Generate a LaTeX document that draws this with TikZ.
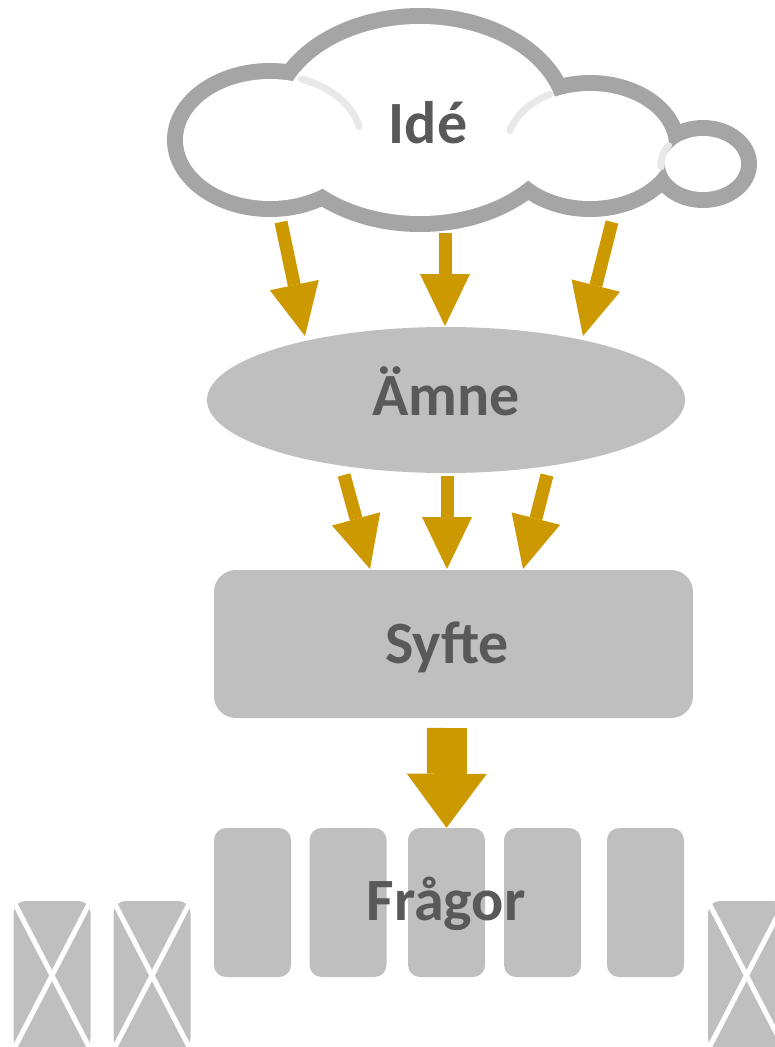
\documentclass[tikz,border=0pt]{standalone}
\usepackage{fontspec}
\setmainfont{Carlito}
\usepackage{tikz}
\usetikzlibrary{shapes.geometric,arrows.meta}

\definecolor{gold}{RGB}{204,153,0}
\definecolor{boxgray}{RGB}{191,191,191}
\definecolor{txtgray}{RGB}{89,89,89}
\definecolor{cloudgray}{RGB}{165,165,165}

\tikzset{
	boxtext/.style={text=txtgray, font=\bfseries\fontsize{60}{62}\selectfont, text height=38pt, text depth=0pt},
	blockarrow/.style={draw=gold, line width=13pt, -{Triangle[width=50pt,length=52pt,line width=0pt]}},
	bigarrow/.style={draw=gold, line width=40pt, -{Triangle[width=80pt,length=54pt,line width=0pt]}},
	qbox/.style={fill=boxgray, rounded corners=12pt, minimum width=77pt, minimum height=149pt, inner sep=0pt},
	crossline/.style={draw=white, line width=5pt},
	lobeshade/.style={draw=black!9, line width=7pt, line cap=round},
}

\begin{document}
\begin{tikzpicture}[x=1pt,y=-1pt]
	
	\useasboundingbox (0,0) rectangle (775,1047);
	
	% cloud
	\foreach \cx/\cy/\rx/\ry in {270/140/103/77, 420/120/155/112, 590/146/95/71, 703/164/54/44}
		\fill[cloudgray] (\cx,\cy) ellipse [x radius=\rx, y radius=\ry];
	\foreach \cx/\cy/\rx/\ry in {270/140/103/77, 420/120/155/112, 590/146/95/71, 703/164/54/44}
		\fill[white] (\cx,\cy) ellipse [x radius=\rx-16, y radius=\ry-16];
	\draw[lobeshade] (270,140) ++(-70:91 and 65) arc[start angle=-70, end angle=-12, x radius=91, y radius=65];
	\draw[lobeshade] (590,146) ++(-119:83 and 59) arc[start angle=-119, end angle=-165, x radius=83, y radius=59];
	\draw[lobeshade] (703,164) ++(-145:42 and 32) arc[start angle=-145, end angle=-185, x radius=42, y radius=32];
	\node[boxtext] (ide) at (428,124) {Idé};
	
	\node[ellipse, fill=boxgray, minimum width=478pt, minimum height=146pt, inner sep=0pt] (amne) at (446,400) {};
	\node[boxtext] at (446,396) {Ämne};
	\node[fill=boxgray, rounded corners=22pt, minimum width=479pt, minimum height=148pt, inner sep=0pt] (syfte) at (453.5,644) {};
	\node[boxtext] at (447,644) {Syfte};
	
	% arrows from the cloud
	\coordinate (c1) at (281,222);
	\coordinate (c2) at (445,233);
	\coordinate (c3) at (612,222);
	\coordinate (a1) at (305,336);
	\coordinate (a2) at (445,326);
	\coordinate (a3) at (583,336);
	\draw[blockarrow] (c1) -- (a1);
	\draw[blockarrow] (c2) -- (a2);
	\draw[blockarrow] (c3) -- (a3);
	
	% arrows from the ellipse
	\coordinate (m1) at (344,475);
	\coordinate (m2) at (447,476);
	\coordinate (m3) at (547,475);
	\coordinate (s1) at (370,569);
	\coordinate (s2) at (447,569);
	\coordinate (s3) at (523,569);
	\draw[blockarrow] (m1) -- (s1);
	\draw[blockarrow] (m2) -- (s2);
	\draw[blockarrow] (m3) -- (s3);
	
	% questions
	\foreach \n/\qx in {1/252.5, 2/348, 3/446.5, 4/542.5, 5/645.5}
		\node[qbox] (q\n) at (\qx,902.5) {};
	\node[boxtext] (fragor) at (446,901) {Frågor};
	\coordinate (f0) at (447,728);
	\draw[bigarrow] (f0) -- (q3.north);
	
	% crossed out questions
	\foreach \n/\qx in {1/52, 2/152, 3/746.5}
	{
		\node[qbox] (x\n) at (\qx,975.5) {};
		\draw[crossline] (x\n.north west) -- (x\n.south east);
		\draw[crossline] (x\n.north east) -- (x\n.south west);
	}
	
\end{tikzpicture}
\end{document}
